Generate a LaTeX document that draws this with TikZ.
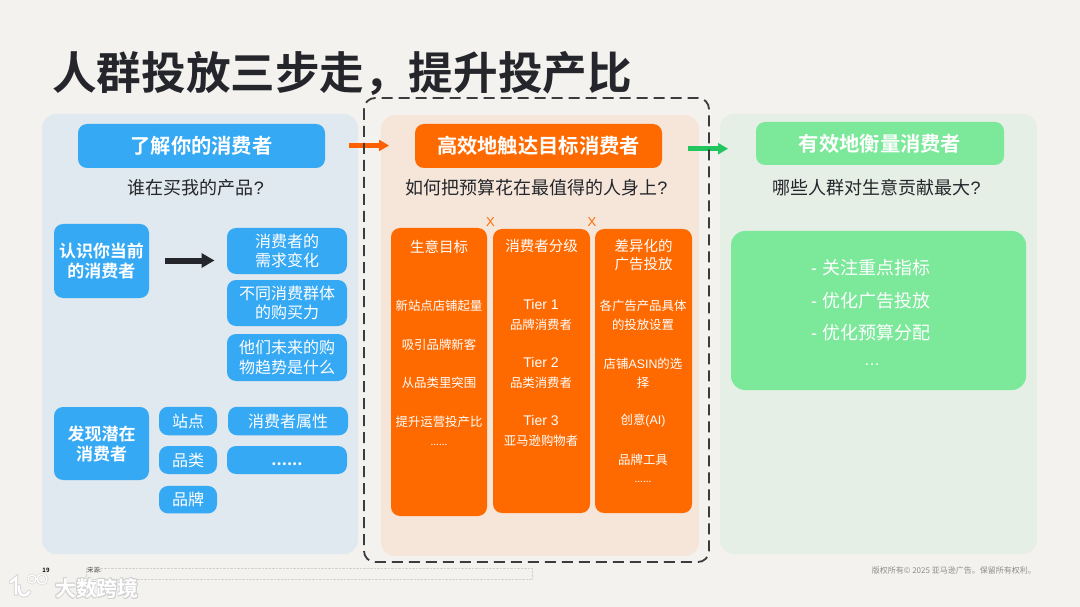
\documentclass[tikz,border=0pt]{standalone}
\usepackage{fontspec}
\setmainfont{Noto Sans CJK SC}[BoldFont=* Bold]
\newfontfamily\latinfont{Liberation Sans}
\usetikzlibrary{arrows.meta}
\definecolor{paper}{HTML}{F4F2EE}
\definecolor{inkdark}{HTML}{24262B}
\definecolor{skyblue}{HTML}{36A9F5}
\definecolor{brandorange}{HTML}{FF6A00}
\definecolor{softgreen}{HTML}{7BE89A}
\definecolor{arrowgreen}{HTML}{22C55E}
\definecolor{panelblue}{HTML}{E0E9EF}
\definecolor{panelorange}{HTML}{F6E6DA}
\definecolor{panelgreen}{HTML}{E6EFE5}
\tikzset{
	panel/.style={rectangle, rounded corners=14pt, inner sep=0pt},
	tile/.style={rectangle, rounded corners=9pt, inner sep=0pt, text=white, align=center},
	bluetile/.style={tile, fill=skyblue, font=\fontsize{16}{19.5}\selectfont},
	boldtile/.style={tile, fill=skyblue, font=\bfseries\fontsize{17}{20}\selectfont},
	header/.style={tile, font=\bfseries\fontsize{20.3}{24}\selectfont},
	question/.style={inner sep=0pt, text=inkdark, font=\fontsize{18}{22}\selectfont},
	column/.style={rectangle, rounded corners=9pt, inner sep=0pt, fill=brandorange},
	coltext/.style={inner sep=0pt, text=white, align=center, font=\fontsize{12.4}{19.3}\selectfont},
	coltitle/.style={inner sep=0pt, text=white, align=center, font=\fontsize{14.5}{18}\selectfont},
	coldots/.style={inner sep=0pt, text=white, font=\fontsize{10}{10}\selectfont},
	steer/.style={anchor=west, inner sep=0pt, text=white, font=\fontsize{18}{22}\selectfont},
	bigarrow/.style={line width=4.5pt, -{Triangle[length=10pt,width=11pt]}},
	logoline/.style={line width=2.4pt, white, line cap=round},
	logohalo/.style={line width=4.4pt, black!15, line cap=round},
}
\begin{document}
\begin{tikzpicture}[x=1pt, y=-1pt]
	\useasboundingbox (0,0) rectangle (1080,607);
	\fill[paper] (0,0) rectangle (1080,607);
	% Title
	\node[anchor=west, inner sep=0pt, text=inkdark, font=\bfseries\fontsize{44.6}{50}\selectfont] (title) at (52,73.5) {人群投放三步走\symbol{"FF0C}提升投产比};
	% Panels
	\node[panel, fill=panelblue, minimum width=316pt, minimum height=440pt] (leftpanel) at (200,334) {};
	\node[panel, fill=panelorange, minimum width=318pt, minimum height=441pt] (midpanel) at (540,335.5) {};
	\node[panel, fill=panelgreen, minimum width=317pt, minimum height=440pt] (rightpanel) at (878.5,334) {};
	% Left
	\node[header, fill=skyblue, minimum width=247pt, minimum height=44pt] (lefthead) at (201.5,146) {\raisebox{1pt}{了解你的消费者}};
	\node[question] (leftask) at (196,188) {谁在买我的产品{\latinfont ?}};
	\node[boldtile, minimum width=95pt, minimum height=74pt] (know) at (101.5,261) {认识你当前\\的消费者};
	\node[bluetile, minimum width=120pt, minimum height=46pt] (need) at (287,251) {消费者的\\需求变化};
	\node[bluetile, minimum width=120pt, minimum height=46pt] (power) at (287,303) {不同消费群体\\的购买力};
	\node[bluetile, minimum width=120pt, minimum height=47pt] (trend) at (287,357.5) {他们未来的购\\物趋势是什么};
	\node[boldtile, minimum width=95pt, minimum height=73pt] (find) at (101.5,443.5) {发现潜在\\消费者};
	\node[bluetile, minimum width=58pt, minimum height=28.5pt] (site) at (188,421) {站点};
	\node[bluetile, minimum width=58pt, minimum height=28pt] (cat) at (188,460) {品类};
	\node[bluetile, minimum width=58pt, minimum height=27.5pt] (brand) at (188,499.7) {品牌};
	\node[bluetile, minimum width=120pt, minimum height=28.5pt] (attr) at (288,421) {消费者属性};
	\node[bluetile, minimum width=120pt, minimum height=28pt] (more) at (287,460) {\vphantom{品}\bfseries ......};
	\coordinate (knowout) at (165,260.5);
	\coordinate (needin) at (214.5,260.5);
	\draw[line width=6pt, inkdark, -{Triangle[length=13pt,width=14pt]}] (knowout) -- (needin);
	% Middle
	\node[header, fill=brandorange, minimum width=247pt, minimum height=44pt] (midhead) at (538.5,146) {\raisebox{1pt}{高效地触达目标消费者}};
	\node[question] (midask) at (536.5,188) {如何把预算花在最值得的人身上{\latinfont ?}};
	\node[column, minimum width=96pt, minimum height=288pt] (goal) at (439,372) {};
	\node[column, minimum width=97pt, minimum height=284pt] (tier) at (541.5,371) {};
	\node[column, minimum width=97pt, minimum height=284pt] (plan) at (643.5,371) {};
	\node[inner sep=0pt, text=brandorange, font=\latinfont\fontsize{13}{15}\selectfont] (timesa) at (490.5,222.5) {X};
	\node[inner sep=0pt, text=brandorange, font=\latinfont\fontsize{13}{15}\selectfont] (timesb) at (592,222.5) {X};
	% Goal column
	\node[coltitle] (goaltitle) at (439,246.5) {生意目标};
	\node[coltext] (goala) at (439,306) {新站点店铺起量};
	\node[coltext] (goalb) at (439,345) {吸引品牌新客};
	\node[coltext] (goalc) at (439,383) {从品类里突围};
	\node[coltext] (goald) at (439,422) {提升运营投产比};
	\node[coldots] (goale) at (439,445) {......};
	% Tier column
	\node[coltitle] (tiertitle) at (541.5,246.5) {消费者分级};
	\node[coltext] (tiera) at (541,315) {{\latinfont\fontsize{14}{19.3}\selectfont Tier 1}\\品牌消费者};
	\node[coltext] (tierb) at (541,373) {{\latinfont\fontsize{14}{19.3}\selectfont Tier 2}\\品类消费者};
	\node[coltext] (tierc) at (541,431) {{\latinfont\fontsize{14}{19.3}\selectfont Tier 3}\\亚马逊购物者};
	% Plan column
	\node[coltitle] (plantitle) at (643.5,255.5) {差异化的\\广告投放};
	\node[coltext] (plana) at (643,315) {各广告产品具体\\的投放设置};
	\node[coltext] (planb) at (643,373) {店铺{\latinfont ASIN}的选\\择};
	\node[coltext] (planc) at (643,421) {创意{\latinfont (AI)}};
	\node[coltext] (pland) at (643,460) {品牌工具};
	\node[coldots] (plane) at (643,482) {......};
	% Right
	\node[header, fill=softgreen, minimum width=248pt, minimum height=43pt] (righthead) at (880,143.5) {\raisebox{1pt}{有效地衡量消费者}};
	\node[question] (rightask) at (876.5,188) {哪些人群对生意贡献最大{\latinfont ?}};
	\node[rectangle, rounded corners=14pt, inner sep=0pt, fill=softgreen, minimum width=295pt, minimum height=159pt] (rightbox) at (878.5,310.5) {};
	\node[steer] (steera) at (811,268) {{\latinfont -\ }关注重点指标};
	\node[steer] (steerb) at (811,300.5) {{\latinfont -\ }优化广告投放};
	\node[steer] (steerc) at (811,333) {{\latinfont -\ }优化预算分配};
	\node[inner sep=0pt, text=white, font=\latinfont\fontsize{16}{20}\selectfont] (steerd) at (872,365) {…};
	% Arrows between panels
	\coordinate (leftout) at (349,145.5);
	\coordinate (midin) at (389,145.5);
	\coordinate (midout) at (688,148.7);
	\coordinate (rightin) at (728,148.7);
	\draw[bigarrow, brandorange!90!red] (leftout) -- (midin);
	\draw[bigarrow, arrowgreen] (midout) -- (rightin);
	% Dashed frame
	\draw[line width=1.8pt, inkdark!90, dash pattern=on 11pt off 6pt, rounded corners=11pt] (364,98) rectangle (709,562);
	% Footer
	\node[inner sep=0pt, text=black, font=\bfseries\fontsize{6}{7}\selectfont] (pageno) at (46,570.5) {19};
	\node[anchor=west, inner sep=0pt, text=black!75, font=\fontsize{6.4}{7}\selectfont] (source) at (87,570.5) {来源:};
	\draw[black!18, line width=.4pt, densely dotted] (86,568) rectangle (532,579);
	\node[anchor=east, inner sep=0pt, text=black!45, font=\fontsize{8}{9}\selectfont] (rights) at (1036,570.5) {版权所有© 2025 亚马逊广告。保留所有权利。};
	% Watermark
	\foreach \dx/\dy in {-1/0, 1/0, 0/-1, 0/1, -1/-1, 1/1, -1/1, 1/-1}
	\node[inner sep=0pt, text=black!18, font=\bfseries\fontsize{21}{24}\selectfont] at (97+\dx,588+\dy) {大数跨境};
	\node[inner sep=0pt, text=white, font=\bfseries\fontsize{21}{24}\selectfont] (mark) at (97,588) {大数跨境};
	\draw[logohalo] (11,582) -- (16,578) -- (16,594);
	\draw[logohalo] (19,586) .. controls (18,598) and (27,597) .. (29,592);
	\draw[black!15, line width=2.6pt] (32,579) circle (4);
	\draw[black!15, line width=2.6pt] (42,579) circle (5);
	\draw[logoline] (11,582) -- (16,578) -- (16,594);
	\draw[logoline] (19,586) .. controls (18,598) and (27,597) .. (29,592);
	\draw[white, line width=1.2pt] (32,579) circle (4);
	\draw[white, line width=1.2pt] (42,579) circle (5);
\end{tikzpicture}
\end{document}
